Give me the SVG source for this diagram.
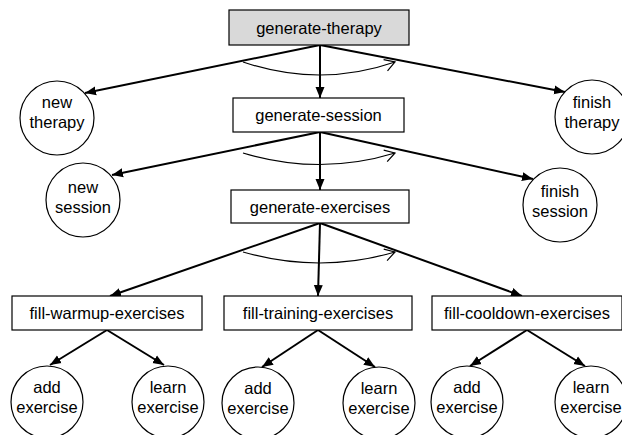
<svg xmlns="http://www.w3.org/2000/svg" width="622" height="435" viewBox="0 0 622 435">
<style>
  .box { fill: #ffffff; stroke: #000; stroke-width: 1.2; }
  .root { fill: #d9d9d9; stroke: #000; stroke-width: 1.2; }
  .circ { fill: #ffffff; stroke: #000; stroke-width: 1.2; }
  .t { font-family: "Liberation Sans", Arial, sans-serif; font-size: 16.5px; fill: #000; text-anchor: middle; }
  .edge { fill: none; stroke: #000; stroke-width: 2; marker-end: url(#ah); }
  .arc { fill: none; stroke: #000; stroke-width: 1.2; marker-end: url(#open); }
</style>
<defs>
  <marker id="ah" markerUnits="userSpaceOnUse" markerWidth="12" markerHeight="10" refX="11" refY="5" orient="auto">
    <path d="M0,0.5 L11,5 L0,9.5 Z" fill="#000"/>
  </marker>
  <marker id="open" markerUnits="userSpaceOnUse" markerWidth="14" markerHeight="14" refX="12" refY="7" orient="auto">
    <path d="M2,1 L12,7 L2,13" fill="none" stroke="#000" stroke-width="1.2"/>
  </marker>
</defs>
<rect width="622" height="435" fill="#ffffff"/>
<g id="connectors">
  <path class="edge" d="M320,45 L85,93"/>
  <path class="edge" d="M320,45 L565,92"/>
  <path class="edge" d="M320,45 L320,98"/>
  <path class="arc" d="M243,62 Q320,88 395,62"/>
  <path class="edge" d="M320,132 L112,175"/>
  <path class="edge" d="M320,132 L533,179"/>
  <path class="edge" d="M320,132 L320,190"/>
  <path class="arc" d="M243,153 Q320,176 395,153"/>
  <path class="edge" d="M320,223 L110,296"/>
  <path class="edge" d="M320,223 L522,296"/>
  <path class="edge" d="M320,223 L318,296"/>
  <path class="arc" d="M243,252 Q320,274 395,252"/>
  <path class="edge" d="M107,330 L50,365"/>
  <path class="edge" d="M107,330 L164,365"/>
  <path class="edge" d="M318,330 L262,367"/>
  <path class="edge" d="M318,330 L375,367"/>
  <path class="edge" d="M527,330 L470,366"/>
  <path class="edge" d="M527,330 L585,366"/>
</g>
<g id="generate-therapy">
  <rect class="root" x="229" y="10" width="180" height="35"/>
  <text class="t" x="319" y="33.5">generate-therapy</text>
</g>
<g id="generate-session">
  <rect class="box" x="233" y="98" width="171" height="34"/>
  <text class="t" x="318.5" y="121">generate-session</text>
</g>
<g id="generate-exercises">
  <rect class="box" x="231" y="190" width="178" height="33"/>
  <text class="t" x="320" y="212.5">generate-exercises</text>
</g>
<g id="new-therapy">
  <circle class="circ" cx="57" cy="118" r="37"/>
  <text class="t" x="57" y="108">new</text>
  <text class="t" x="57" y="128">therapy</text>
</g>
<g id="finish-therapy">
  <circle class="circ" cx="592" cy="117" r="37"/>
  <text class="t" x="592" y="108">finish</text>
  <text class="t" x="592" y="128">therapy</text>
</g>
<g id="new-session">
  <circle class="circ" cx="83" cy="200" r="37"/>
  <text class="t" x="83" y="193">new</text>
  <text class="t" x="83" y="213">session</text>
</g>
<g id="finish-session">
  <circle class="circ" cx="560" cy="205" r="37"/>
  <text class="t" x="560" y="197">finish</text>
  <text class="t" x="560" y="217">session</text>
</g>
<g id="fill-warmup-exercises">
  <rect class="box" x="12" y="296" width="190" height="34"/>
  <text class="t" x="107" y="319">fill-warmup-exercises</text>
</g>
<g id="fill-training-exercises">
  <rect class="box" x="224" y="296" width="188" height="34"/>
  <text class="t" x="318" y="319">fill-training-exercises</text>
</g>
<g id="fill-cooldown-exercises">
  <rect class="box" x="432" y="296" width="190" height="34"/>
  <text class="t" x="527" y="319">fill-cooldown-exercises</text>
</g>
<g id="add-exercise-1">
  <circle class="circ" cx="47" cy="402" r="36"/>
  <text class="t" x="47" y="393">add</text>
  <text class="t" x="47" y="413">exercise</text>
</g>
<g id="learn-exercise-1">
  <circle class="circ" cx="168" cy="402" r="36"/>
  <text class="t" x="168" y="393">learn</text>
  <text class="t" x="168" y="413">exercise</text>
</g>
<g id="add-exercise-2">
  <circle class="circ" cx="258" cy="403" r="36"/>
  <text class="t" x="258" y="394">add</text>
  <text class="t" x="258" y="414">exercise</text>
</g>
<g id="learn-exercise-2">
  <circle class="circ" cx="379" cy="403" r="36"/>
  <text class="t" x="379" y="394">learn</text>
  <text class="t" x="379" y="414">exercise</text>
</g>
<g id="add-exercise-3">
  <circle class="circ" cx="467" cy="402" r="36"/>
  <text class="t" x="467" y="393">add</text>
  <text class="t" x="467" y="413">exercise</text>
</g>
<g id="learn-exercise-3">
  <circle class="circ" cx="591" cy="402" r="36"/>
  <text class="t" x="591" y="393">learn</text>
  <text class="t" x="591" y="413">exercise</text>
</g>
</svg>
